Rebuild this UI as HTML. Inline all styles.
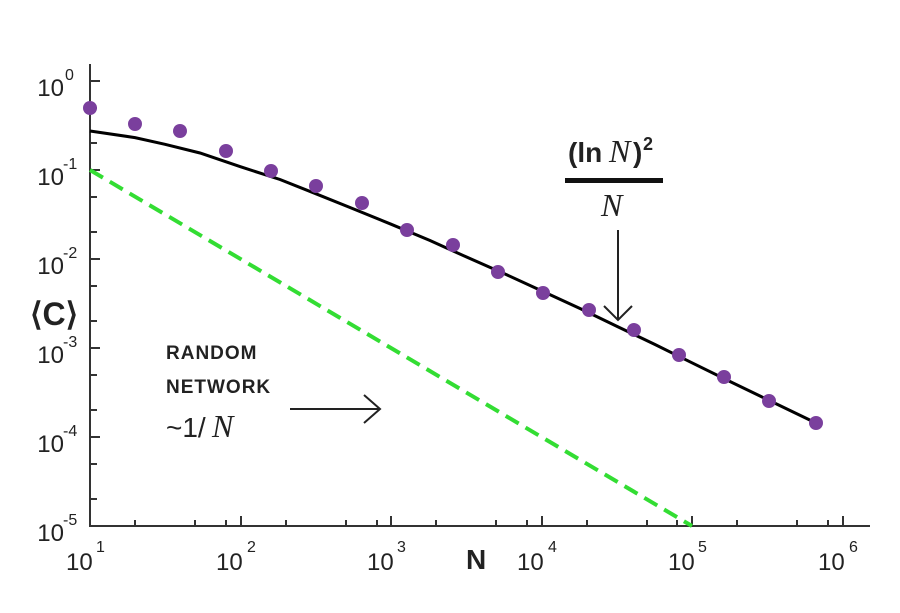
<!DOCTYPE html>
<html><head><meta charset="utf-8"><style>
html,body{margin:0;padding:0;background:#fff;}
svg{display:block;}
text{font-family:"Liberation Sans",sans-serif;fill:#222;}
text.it{font-family:"Liberation Serif",serif;font-style:italic;}
</style></head><body>
<svg width="900" height="613" viewBox="0 0 900 613" xmlns="http://www.w3.org/2000/svg">
<g stroke="#333" stroke-width="2" fill="none">
<line x1="90" y1="64" x2="90" y2="527"/>
<line x1="89" y1="526" x2="870" y2="526"/>
<path d="M90 81h10M90 170h10M90 259h10M90 348h10M90 437h10"/>
<path d="M90 108h7M90 143h7M90 197h7M90 232h7M90 286h7M90 321h7M90 375h7M90 410h7M90 464h7M90 499h7"/>
<path d="M241 526v-10M391 526v-10M542 526v-10M692 526v-10M843 526v-10"/>
<path d="M135 526v-6M195 526v-6M226 526v-6M286 526v-6M346 526v-6M377 526v-6M436 526v-6M496 526v-6M527 526v-6M587 526v-6M647 526v-6M677 526v-6M737 526v-6M797 526v-6M828 526v-6"/>
</g>
<line x1="90" y1="170" x2="692" y2="526" stroke="#33dd33" stroke-width="4" stroke-dasharray="15,8"/>
<polyline fill="none" stroke="#000" stroke-width="3" points="90,131 135,137.6 165,144.3 200,153 240,166.6 280,179.5 316,193.8 350,207.5 391,224.2 430,240.5 466,256.8 505,274 542,291 580,308.5 617,326.4 655,344.5 692,362.8 730,381.5 768,399.9 816,423"/>
<g fill="#7a3f9d">
<circle cx="90" cy="108" r="7"/><circle cx="135" cy="124" r="7"/><circle cx="180" cy="131" r="7"/><circle cx="226" cy="151" r="7"/><circle cx="271" cy="171" r="7"/><circle cx="316" cy="186" r="7"/><circle cx="362" cy="203" r="7"/><circle cx="407" cy="230" r="7"/><circle cx="453" cy="245" r="7"/><circle cx="498" cy="272" r="7"/><circle cx="543" cy="293" r="7"/><circle cx="589" cy="310" r="7"/><circle cx="634" cy="330" r="7"/><circle cx="679" cy="355" r="7"/><circle cx="724" cy="377" r="7"/><circle cx="769" cy="401" r="7"/><circle cx="816" cy="423" r="7"/>
</g>
<g font-size="24" text-anchor="end">
<text x="64" y="96">10</text><text x="64" y="185">10</text><text x="64" y="274">10</text><text x="64" y="363">10</text><text x="64" y="452">10</text><text x="64" y="541">10</text>
</g>
<g font-size="16">
<text x="65" y="80">0</text><text x="63" y="169">-1</text><text x="63" y="258">-2</text><text x="63" y="347">-3</text><text x="63" y="436">-4</text><text x="63" y="525">-5</text>
</g>
<g font-size="24">
<text x="66" y="570">10</text><text x="216" y="570">10</text><text x="367" y="570">10</text><text x="517" y="570">10</text><text x="668" y="570">10</text><text x="818" y="570">10</text>
</g>
<g font-size="16">
<text x="96" y="552">1</text><text x="247" y="552">2</text><text x="397" y="552">3</text><text x="548" y="552">4</text><text x="698" y="552">5</text><text x="849" y="552">6</text>
</g>
<text x="466" y="569" font-size="28" font-weight="bold">N</text>
<text x="30" y="325" font-size="32" font-weight="bold">⟨C⟩</text>
<text x="166" y="359" font-size="19" font-weight="bold" letter-spacing="1">RANDOM</text>
<text x="166" y="393" font-size="19" font-weight="bold" letter-spacing="1">NETWORK</text>
<text x="166" y="437" font-size="28">~1/</text>
<text class="it" x="212" y="437" font-size="32">N</text>
<g stroke="#222" stroke-width="2" fill="none">
<path d="M290 409H380M364 395L380 409L364 423"/>
<path d="M618 230V320M604 306L618 320L632 306"/>
</g>
<text x="568" y="162" font-size="28" font-weight="bold">(ln</text>
<text class="it" x="609" y="162" font-size="32">N</text>
<text x="633" y="162" font-size="28" font-weight="bold">)</text>
<text x="643" y="150" font-size="18" font-weight="bold">2</text>
<rect x="565" y="178" width="98" height="5" fill="#111"/>
<text class="it" x="601" y="216" font-size="32">N</text>
</svg>
</body></html>
